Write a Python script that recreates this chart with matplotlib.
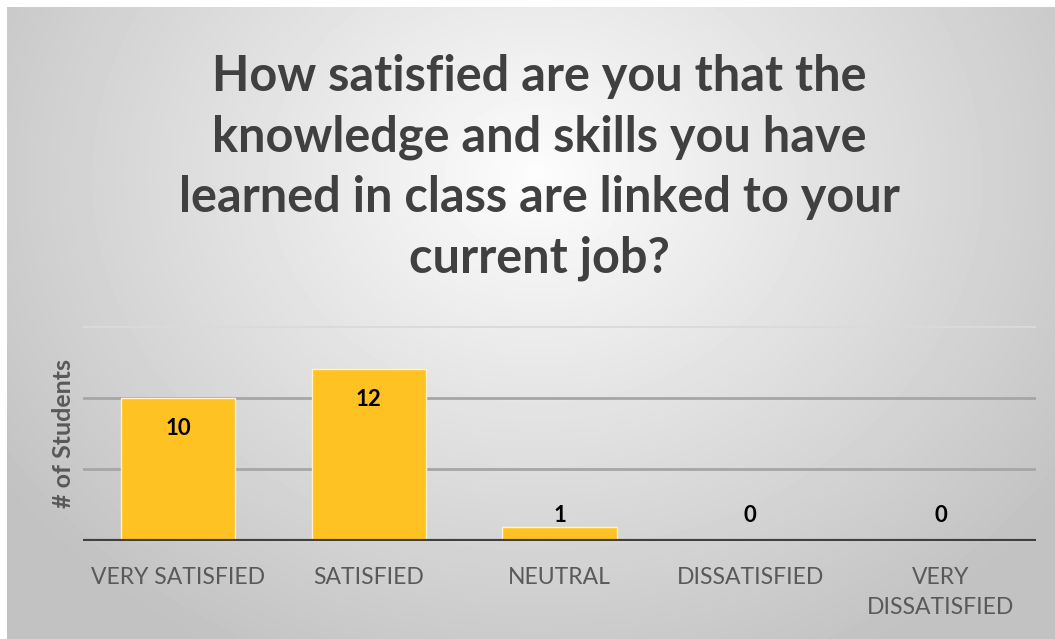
import numpy as np
import matplotlib
matplotlib.use('Agg')
import matplotlib.pyplot as plt

# Data
categories = ['VERY SATISFIED', 'SATISFIED', 'NEUTRAL', 'DISSATISFIED', 'VERY\nDISSATISFIED']
students = [10, 12, 1, 0, 0]
title = ('How satisfied are you that the\nknowledge and skills you have\n'
         'learned in class are linked to your\ncurrent job?')

plt.rcParams['font.family'] = ['Lato', 'DejaVu Sans']

fig = plt.figure(figsize=(10.55, 6.39), dpi=100, facecolor='white')

# Radial gradient background panel
bg = fig.add_axes([7 / 1055, 0, 1 - 7 / 1055, 1 - 7 / 639])
h, w = 632, 1048
yy, xx = np.mgrid[0:h, 0:w]
cx, cy = 530, 170
r = np.sqrt(((xx - cx) / 620.0) ** 2 + ((yy - cy) / 520.0) ** 2)
shade = np.clip(0.99 - 0.22 * r, 0.76, 0.99)
bg.imshow(shade, cmap='gray', vmin=0, vmax=1, aspect='auto', interpolation='bilinear')
bg.axis('off')

# Title
fig.text(539 / 1055, 0.738, title, ha='center', va='center', fontsize=35,
         fontweight='bold', color='#404040', linespacing=1.42)

# Bar chart
ax = fig.add_axes([83 / 1055, 1 - 541 / 639, (1036 - 83) / 1055, (541 - 326) / 639])
ax.patch.set_alpha(0)
x = np.arange(len(categories))
bars = ax.bar(x, students, width=0.6, color='#FFC222', edgecolor='#FFF2CC', linewidth=1, zorder=3)

ax.set_xlim(-0.5, len(categories) - 0.5)
ax.set_ylim(0, 15)
for gy, gc in [(5, '#a6a6a6'), (10, '#a6a6a6'), (15, '#dadada')]:
    ax.axhline(gy, color=gc, linewidth=2, zorder=1)
ax.axhline(0, color='#404040', linewidth=3, zorder=4)

for s in ax.spines.values():
    s.set_visible(False)
ax.set_yticks([])
ax.set_xticks(x)
ax.set_xticklabels(categories, fontsize=16.5, color='#595959')
ax.tick_params(axis='x', length=0, pad=19)
for lbl in ax.get_xticklabels():
    lbl.set_linespacing(1.5)
    lbl.set_verticalalignment('top')

ax.set_ylabel('# of Students', fontsize=18, fontweight='bold', color='#595959', labelpad=6)

# Value labels: inside end, pushed above small bars
for xi, v in zip(x, students):
    ly = max(v - 2.15, 1.75)
    ax.text(xi, ly, str(v), ha='center', va='center', fontsize=16,
            fontweight='bold', color='black', zorder=5)

fig.savefig('out.png', dpi=100, facecolor='white')
